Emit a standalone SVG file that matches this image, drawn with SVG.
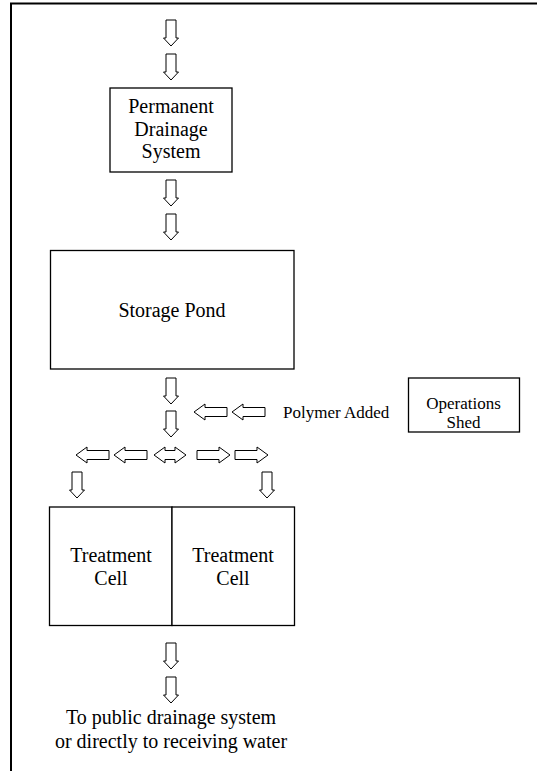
<svg xmlns="http://www.w3.org/2000/svg" xmlns:xlink="http://www.w3.org/1999/xlink" width="537" height="771" viewBox="0 0 537 771">
<style>
.box{fill:#fff;stroke:#000;stroke-width:1.3}
.arr{fill:#fff;stroke:#000;stroke-width:1}
.t{font-family:"Liberation Serif","Times New Roman",serif;font-size:20px;fill:#000;text-anchor:middle}
.s{font-family:"Liberation Serif","Times New Roman",serif;font-size:17px;fill:#000}
</style>
<defs>
<path id="down" class="arr" d="M-5,0 H5 V18 H7.5 L0,26 L-7.5,18 H-5 Z"/>
<path id="left" class="arr" d="M0,0 L11,-8 V-4.5 H33 V4.5 H11 V8 Z"/>
<path id="right" class="arr" d="M33,0 L22,-8 V-4.5 H0 V4.5 H22 V8 Z"/>
<path id="both" class="arr" d="M0,0 L11,-8 V-4.5 H21 V-8 L32,0 L21,8 V4.5 H11 V8 Z"/>
</defs>
<rect width="537" height="771" fill="#fff"/>
<rect x="11" y="3.5" width="600" height="800" fill="none" stroke="#000" stroke-width="2"/>

<g id="connectors">
<use xlink:href="#down" x="171" y="20"/>
<use xlink:href="#down" x="171" y="54"/>
<use xlink:href="#down" x="171" y="180"/>
<use xlink:href="#down" x="171" y="214"/>
<use xlink:href="#down" x="171" y="378"/>
<use xlink:href="#down" x="171" y="411"/>
<use xlink:href="#left" x="194" y="412"/>
<use xlink:href="#left" x="232" y="412"/>
<use xlink:href="#left" x="76" y="455"/>
<use xlink:href="#left" x="114" y="455"/>
<use xlink:href="#both" x="154" y="455"/>
<use xlink:href="#right" x="197" y="455"/>
<use xlink:href="#right" x="235" y="455"/>
<use xlink:href="#down" x="77" y="472"/>
<use xlink:href="#down" x="267" y="472"/>
<use xlink:href="#down" x="171" y="643"/>
<use xlink:href="#down" x="171" y="677"/>
</g>

<g id="permanent-drainage">
<rect class="box" x="110" y="88" width="122" height="84"/>
<text class="t" x="171" y="113">Permanent</text>
<text class="t" x="171" y="135.5">Drainage</text>
<text class="t" x="171" y="158">System</text>
</g>

<g id="storage-pond">
<rect class="box" x="50.5" y="250.5" width="243.5" height="118.5"/>
<text class="t" x="172" y="317">Storage Pond</text>
</g>

<g id="polymer-added">
<text class="s" x="283" y="418">Polymer Added</text>
</g>

<g id="operations-shed">
<rect class="box" x="408.5" y="378" width="111" height="54"/>
<text class="s" x="463.5" y="409" text-anchor="middle">Operations</text>
<text class="s" x="463.5" y="428" text-anchor="middle">Shed</text>
</g>

<g id="treatment-cell-1">
<rect class="box" x="49.5" y="507" width="122.5" height="118.5"/>
<text class="t" x="111" y="561.5">Treatment</text>
<text class="t" x="111" y="585">Cell</text>
</g>
<g id="treatment-cell-2">
<rect class="box" x="172" y="507" width="122.5" height="118.5"/>
<text class="t" x="233" y="561.5">Treatment</text>
<text class="t" x="233" y="585">Cell</text>
</g>

<g id="outlet">
<text class="t" x="171" y="724">To public drainage system</text>
<text class="t" x="171" y="748">or directly to receiving water</text>
</g>
</svg>
